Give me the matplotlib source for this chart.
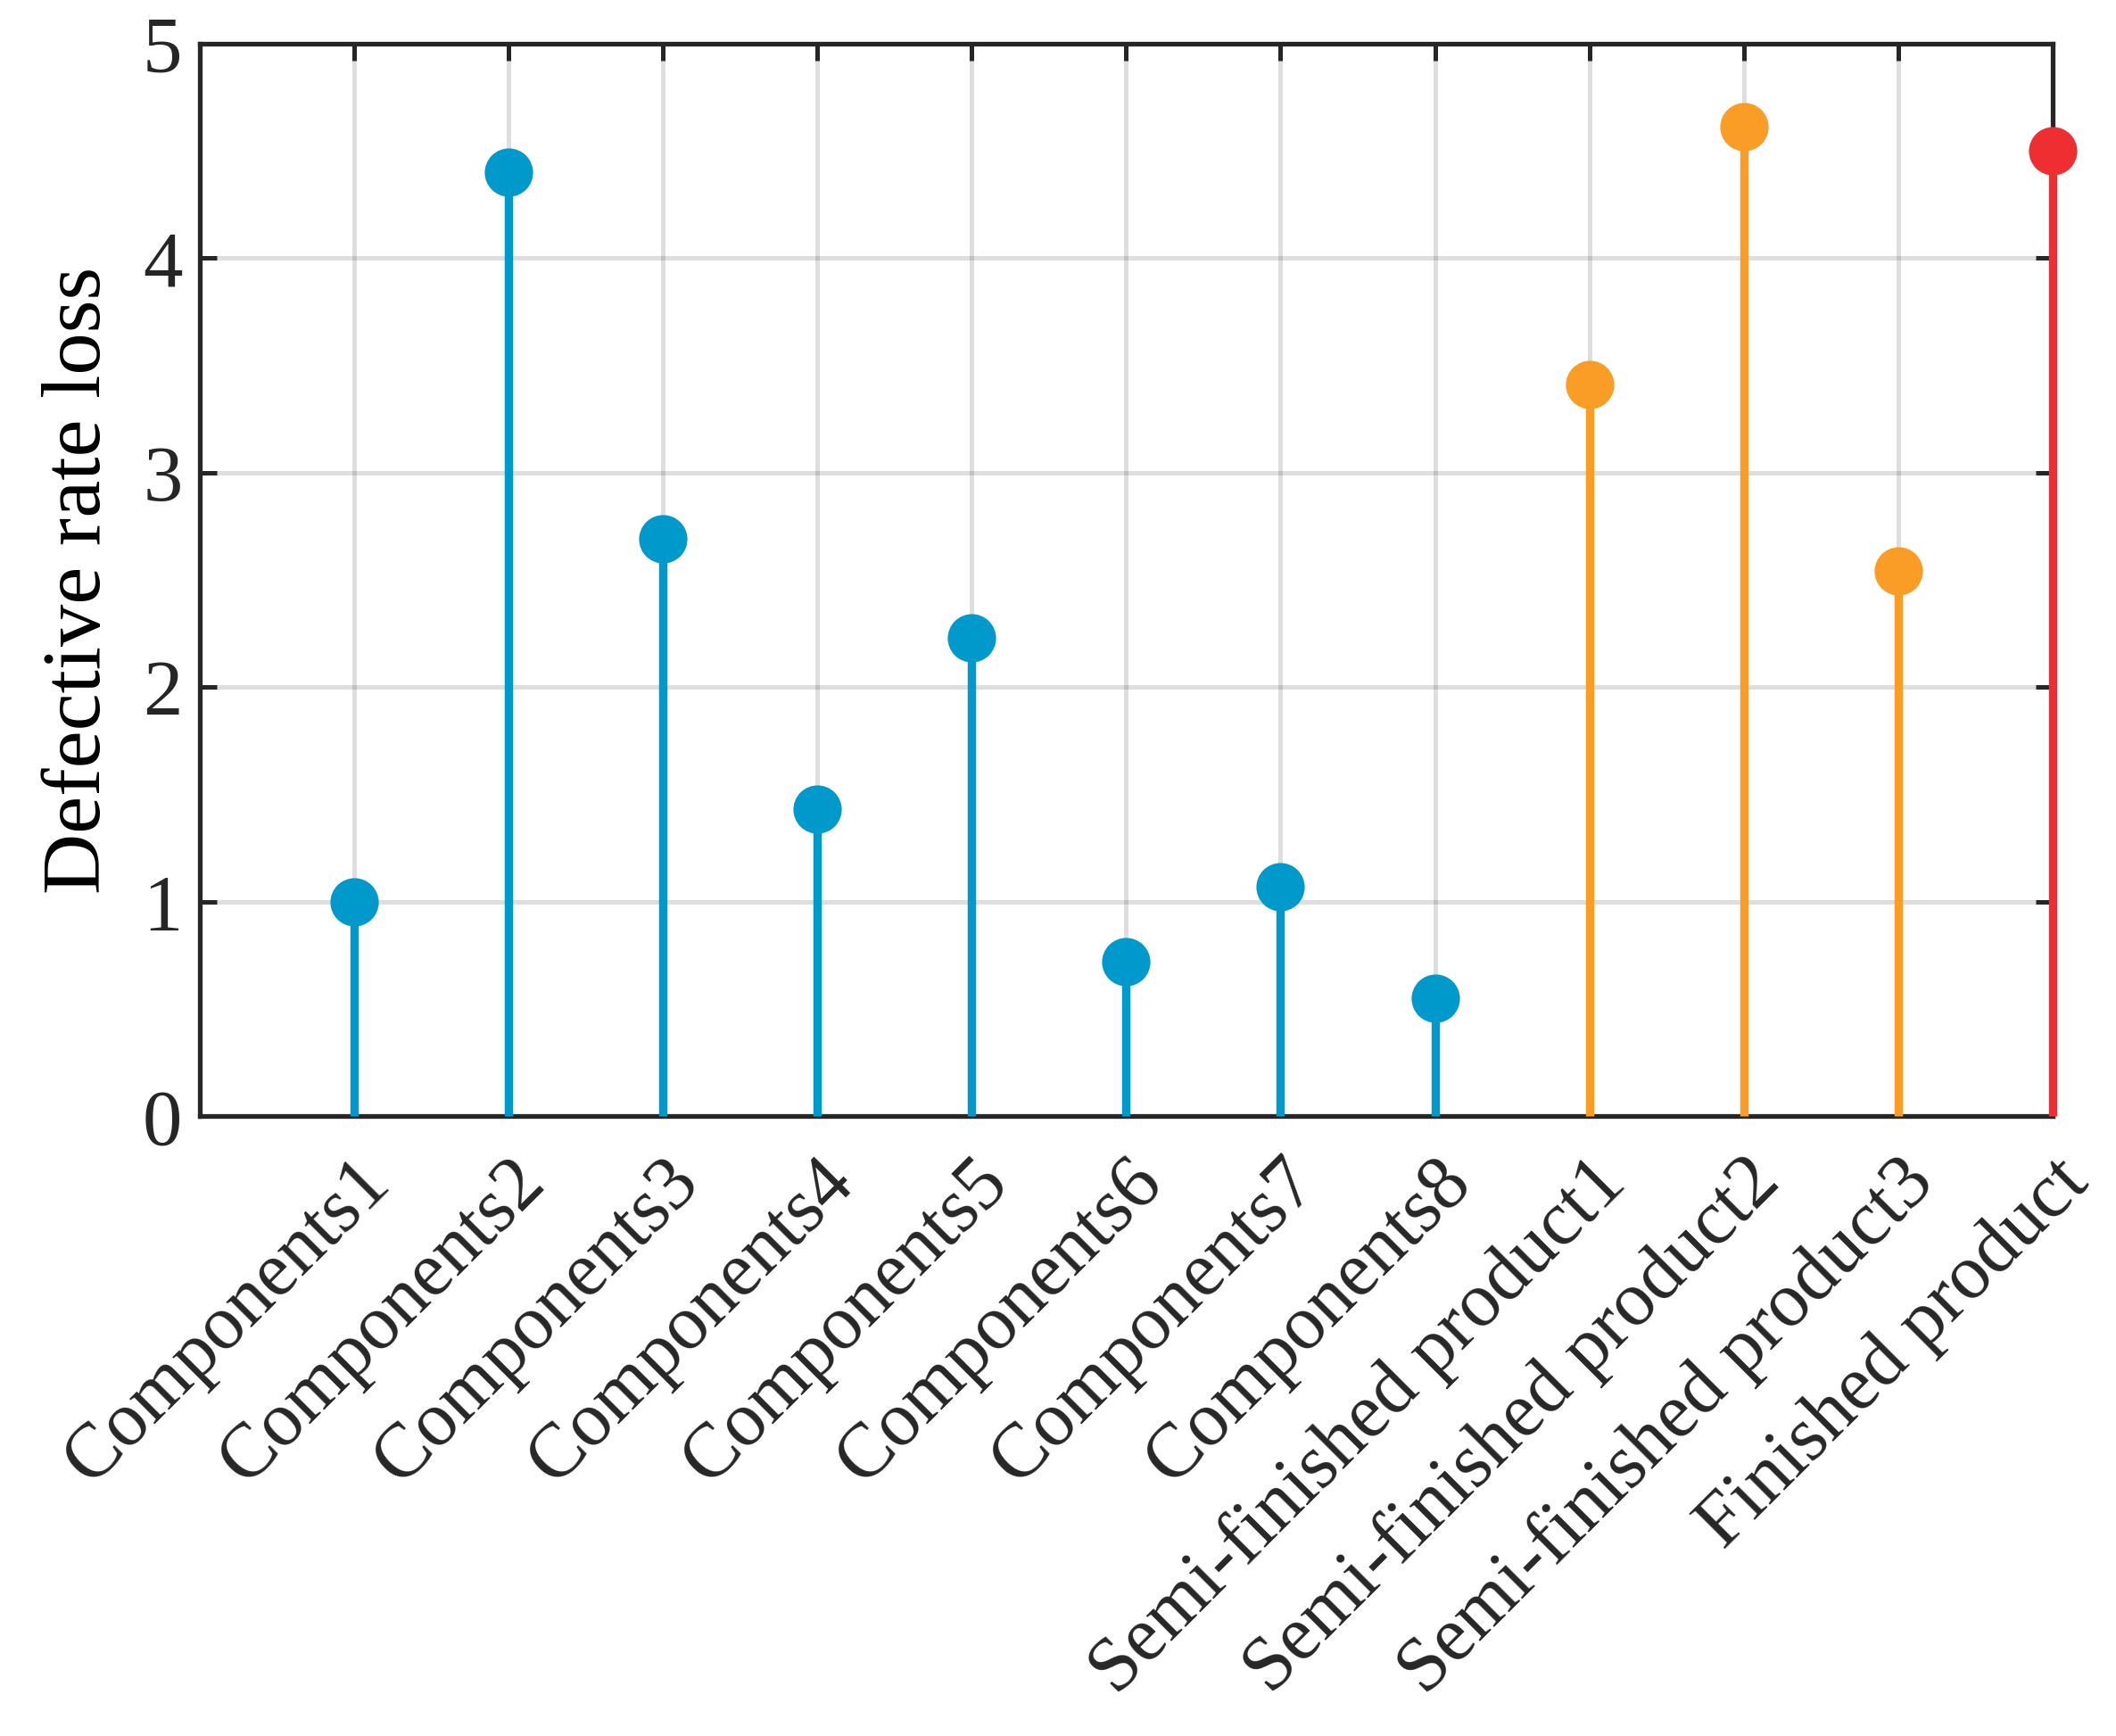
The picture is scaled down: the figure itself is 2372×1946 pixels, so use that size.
import matplotlib
matplotlib.use("Agg")
import matplotlib.pyplot as plt
import numpy as np

categories = ["Components1", "Components2", "Components3", "Components4",
              "Components5", "Components6", "Components7", "Components8",
              "Semi-finished product1", "Semi-finished product2",
              "Semi-finished product3", "Finished product"]
values = [1.00, 4.40, 2.69, 1.43, 2.23, 0.72, 1.07, 0.55, 3.41, 4.61, 2.54, 4.50]
groups = ["c"] * 8 + ["s"] * 3 + ["f"]
group_colors = {"c": "#0099CC", "s": "#F99D27", "f": "#EE2E31"}
yticks = [0, 1, 2, 3, 4, 5]

plt.rcParams['font.family'] = ['Liberation Serif', 'DejaVu Serif']

fig = plt.figure(figsize=(11.86, 9.73), dpi=200)
ax = fig.add_axes([0.0944, 0.357, 0.8756, 0.618])

x = np.arange(1, len(categories) + 1)
for g, col in group_colors.items():
    idx = [i for i, gg in enumerate(groups) if gg == g]
    xs = x[idx]
    ys = [values[i] for i in idx]
    ax.vlines(xs, 0, ys, color=col, linewidth=3.4, zorder=5, clip_on=False)
    ax.plot(xs, ys, 'o', color=col, markersize=18.5, zorder=6, clip_on=False)

ax.set_xlim(0, 12)
ax.set_ylim(0, 5)
ax.set_xticks(x)
ax.set_xticklabels(categories, rotation=45, ha='right', va='top',
                   rotation_mode='anchor', fontsize=31)
ax.set_yticks(yticks)
ax.set_yticklabels([str(t) for t in yticks], fontsize=32)
ax.set_ylabel("Defective rate loss", fontsize=34, labelpad=10)

ax.grid(True, color='#000000', alpha=0.13, linewidth=1.8)
ax.set_axisbelow(True)
ax.tick_params(direction='in', length=7, width=1.8, top=True, right=True,
               colors='#262626', pad=7)
ax.tick_params(axis='x', pad=12)
for sp in ax.spines.values():
    sp.set_linewidth(1.9)
    sp.set_color('#262626')
    sp.set_zorder(2.5)

fig.savefig("out.png", dpi=200)
